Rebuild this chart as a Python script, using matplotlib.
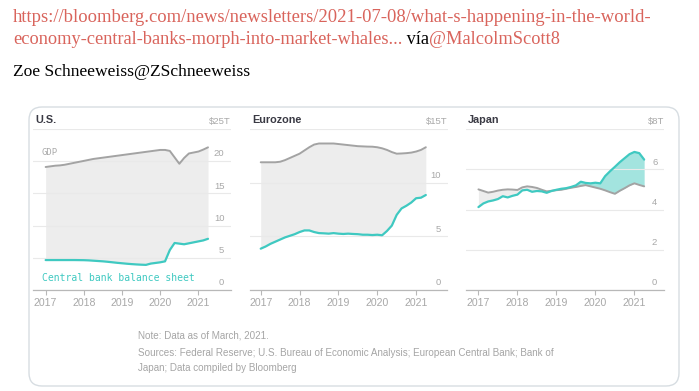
"""Tweet card with Bloomberg central bank balance sheet vs GDP panels."""

import matplotlib
matplotlib.use("Agg")
import matplotlib.pyplot as plt
from matplotlib.patches import FancyBboxPatch

# shared x grid (decimal years, 2017 -> March 2021)
DATES = [2017.0, 2017.125, 2017.25, 2017.375, 2017.5, 2017.625, 2017.75, 2017.875,
         2018.0, 2018.125, 2018.25, 2018.375, 2018.5, 2018.625, 2018.75, 2018.875,
         2019.0, 2019.125, 2019.25, 2019.375, 2019.5, 2019.625, 2019.75, 2019.875,
         2020.0, 2020.125, 2020.25, 2020.375, 2020.5, 2020.625, 2020.75, 2020.875,
         2021.0, 2021.125, 2021.25]

US_GDP = [19.1, 19.2, 19.3, 19.35, 19.45, 19.6, 19.75, 19.9,
          20.05, 20.2, 20.35, 20.45, 20.55, 20.65, 20.75, 20.85,
          20.95, 21.05, 21.15, 21.25, 21.35, 21.45, 21.55, 21.65,
          21.75, 21.75, 21.6, 20.6, 19.6, 20.5, 21.2, 21.35,
          21.5, 21.8, 22.15]
US_BS = [4.65, 4.65, 4.65, 4.65, 4.65, 4.65, 4.65, 4.64,
         4.63, 4.6, 4.55, 4.5, 4.45, 4.38, 4.3, 4.22,
         4.15, 4.08, 4.02, 3.97, 3.93, 3.9, 4.1, 4.2,
         4.3, 4.45, 6.2, 7.3, 7.2, 7.1, 7.25, 7.4,
         7.55, 7.7, 7.95]

EU_GDP = [11.9, 11.9, 11.9, 11.9, 11.95, 12.1, 12.3, 12.5,
          12.7, 13.0, 13.3, 13.55, 13.65, 13.65, 13.65, 13.65,
          13.6, 13.55, 13.5, 13.45, 13.4, 13.38, 13.36, 13.35,
          13.3, 13.2, 13.05, 12.85, 12.7, 12.72, 12.75, 12.8,
          12.9, 13.05, 13.3]
EU_BS = [3.85, 4.05, 4.3, 4.5, 4.7, 4.9, 5.05, 5.2,
         5.4, 5.55, 5.55, 5.4, 5.3, 5.28, 5.25, 5.3,
         5.25, 5.22, 5.25, 5.22, 5.2, 5.15, 5.15, 5.12,
         5.15, 5.1, 5.5, 6.0, 7.0, 7.6, 7.85, 8.15,
         8.55, 8.6, 8.85]

JP_GDP = [5.0, 4.92, 4.84, 4.88, 4.94, 4.98, 5.0, 4.99,
          4.97, 5.1, 5.15, 5.12, 5.07, 4.98, 4.9, 4.93,
          4.96, 4.98, 5.03, 5.08, 5.12, 5.17, 5.21, 5.15,
          5.09, 5.03, 4.95, 4.86, 4.78, 4.93, 5.06, 5.2,
          5.3, 5.22, 5.15]
JP_BS = [4.12, 4.3, 4.4, 4.45, 4.52, 4.66, 4.6, 4.68,
         4.74, 4.95, 4.98, 4.88, 4.92, 4.9, 4.83, 4.92,
         4.98, 5.03, 5.06, 5.12, 5.2, 5.38, 5.32, 5.3,
         5.33, 5.3, 5.66, 5.9, 6.12, 6.35, 6.55, 6.75,
         6.86, 6.8, 6.48]

YEARS = [2017, 2018, 2019, 2020, 2021]
US_TICKS = [0, 5, 10, 15, 20]
EU_TICKS = [0, 5, 10]
JP_TICKS = [0, 2, 4, 6]

LINK = "#d9645c"
TEAL = "#3fc9c1"
TEAL_FILL = "#a3e4df"
GRAY_LINE = "#a3a3a3"
GRAY_FILL = "#ededed"
LABEL = "#a8a8a8"

W, H = 699, 391
fig = plt.figure(figsize=(W / 100, H / 100), dpi=100)
fig.patch.set_facecolor("white")

# background axes in pixel units (y down)
bg = fig.add_axes([0, 0, 1, 1], zorder=0)
bg.set_xlim(0, W)
bg.set_ylim(H, 0)
bg.axis("off")

serif = "Liberation Serif"
bg.text(13, 18, "https://bloomberg.com/news/newsletters/2021-07-08/what-s-happening-in-the-world-",
        color=LINK, fontsize=13.4, family=serif, va="center")
t = bg.text(13, 40, "economy-central-banks-morph-into-market-whales...", color=LINK,
            fontsize=13.2, family=serif, va="center")
t2 = bg.annotate(" vía", xycoords=t, xy=(1, 0.5), va="center", color="black",
                 fontsize=13.2, family=serif)
bg.annotate("@MalcolmScott8", xycoords=t2, xy=(1, 0.5), va="center", color=LINK,
            fontsize=13.2, family=serif)
bg.text(13, 72, "Zoe Schneeweiss@ZSchneeweiss", color="black", fontsize=12.6,
        family=serif, va="center")

card = FancyBboxPatch((29, 107), 650, 279, boxstyle="round,pad=0,rounding_size=13",
                      facecolor="white", edgecolor="#d7dde2", linewidth=1.0)
bg.add_patch(card)

sans = "Liberation Sans"
notes = ["Note: Data as of March, 2021.",
         "Sources: Federal Reserve; U.S. Bureau of Economic Analysis; European Central Bank; Bank of",
         "Japan; Data compiled by Bloomberg"]
for y, line in zip([336, 353, 368], notes):
    bg.text(138, y, line, color="#a5a5a5", fontsize=7.1, family=sans, va="center")


def panel(left, right, xlim, ymax, ticks, title, top_label, gdp, bs, japan=False):
    top, bottom = 129, 290
    ax = fig.add_axes([left / W, (H - bottom) / H, (right - left) / W, (bottom - top) / H],
                      zorder=2)
    ax.patch.set_alpha(0)
    ax.set_xlim(*xlim)
    ax.set_ylim(0, ymax)

    if japan:
        above = [b >= g for b, g in zip(bs, gdp)]
        below = [not a for a in above]
        ax.fill_between(DATES, gdp, bs, where=below, interpolate=True, color=GRAY_FILL,
                        lw=0, zorder=1)
        ax.fill_between(DATES, gdp, bs, where=above, interpolate=True, color=TEAL_FILL,
                        lw=0, zorder=1)
    else:
        ax.fill_between(DATES, gdp, bs, color=GRAY_FILL, lw=0, zorder=1)
    ax.plot(DATES, gdp, color=GRAY_LINE, lw=1.4, zorder=3, solid_capstyle="round")
    ax.plot(DATES, bs, color=TEAL, lw=1.6, zorder=4, solid_capstyle="round")

    ax.set_yticks(list(ticks) + [ymax])
    ax.set_yticklabels([])
    ax.tick_params(axis="y", length=0)
    ax.grid(axis="y", color="#e9e9e9", lw=0.8, zorder=0)
    for v in ticks:
        ax.annotate(str(v), xy=(1, v), xycoords=("axes fraction", "data"),
                    xytext=(-4.8, 5.2), textcoords="offset points", ha="right",
                    va="center", color=LABEL, fontsize=6.8, family=sans)
    ax.annotate(top_label, xy=(1, ymax), xycoords=("axes fraction", "data"),
                xytext=(0, 5.4), textcoords="offset points", ha="right", va="center",
                color=LABEL, fontsize=6.8, family=sans)
    ax.annotate(title, xy=(0, ymax), xycoords=("axes fraction", "data"),
                xytext=(1.5, 6.2), textcoords="offset points", ha="left", va="center",
                color="#3a3a44", fontsize=7.8, fontweight="bold", family=sans)

    ax.set_xticks(YEARS)
    ax.set_xticklabels([str(y) for y in YEARS], color=LABEL, fontsize=7.6, family=sans)
    ax.tick_params(axis="x", length=3.5, color="#b8b8b8", width=0.8, pad=2.5)
    for side in ["top", "right", "left"]:
        ax.spines[side].set_visible(False)
    ax.spines["bottom"].set_color("#b8b8b8")
    ax.spines["bottom"].set_linewidth(0.9)
    return ax


us = panel(33, 231, (2016.669, 2021.852), 25, US_TICKS, "U.S.", "$25T", US_GDP, US_BS)
us.text(2016.9, 21.3, "GDP", color="#aaaaaa", fontsize=6.4, family="DejaVu Sans Mono",
        va="center")
us.text(2016.9, 1.9, "Central bank balance sheet", color=TEAL, fontsize=7,
        family="DejaVu Sans Mono", va="center")
panel(250, 447.5, (2016.724, 2021.808), 15, EU_TICKS, "Eurozone", "$15T", EU_GDP, EU_BS)
panel(466, 664, (2016.681, 2021.759), 8, JP_TICKS, "Japan", "$8T", JP_GDP, JP_BS, japan=True)

fig.savefig("out.png", dpi=100)
